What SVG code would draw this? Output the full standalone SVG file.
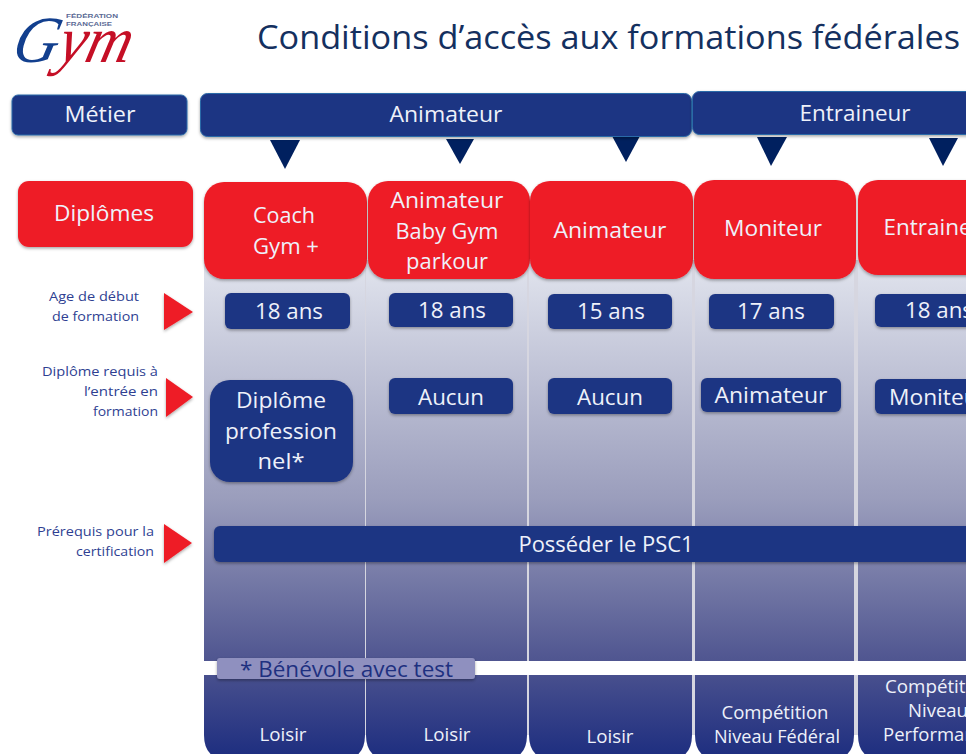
<svg xmlns="http://www.w3.org/2000/svg" width="966" height="754" viewBox="0 0 966 754">
<defs>
<linearGradient id="col" gradientUnits="userSpaceOnUse" x1="0" y1="278" x2="0" y2="754">
<stop offset="0" stop-color="#dcdfea"/><stop offset="0.466" stop-color="#9a9dbc"/><stop offset="0.805" stop-color="#4f5590"/><stop offset="1" stop-color="#1f2f80"/>
</linearGradient>
<filter id="sh" x="-10%" y="-20%" width="120%" height="140%"><feDropShadow dx="0" dy="1.500" stdDeviation="1.500" flood-color="#000" flood-opacity=".35"/></filter>
</defs>
<style>
text{font-family:"Open Sans","Noto Sans","Liberation Sans",sans-serif}
.b{fill:#1d3483;filter:url(#sh)}
.hd{fill:#1d3483;stroke:#2b6aa8;stroke-width:1;filter:url(#sh)}
.r{fill:#ee1c27;filter:url(#sh)}
.w{fill:#eef1fa;text-anchor:middle}
.s{fill:#2f3f92;font-size:13px;text-anchor:end}
.arrow{fill:#ee1c27;filter:url(#sh)}
.down{fill:#00205f}
.p{fill:url(#col)}
.sep{fill:#d6d6e0}
.lg{font-family:"Liberation Sans",sans-serif;font-size:6px;font-weight:700;fill:#5a6a95}
</style>
<rect width="966" height="754" fill="#fff"/>

<g id="columns">
<rect class="sep" x="365" y="260" width="2" height="401"/>
<rect class="sep" x="527" y="260" width="2" height="401"/>
<rect class="sep" x="691" y="260" width="4" height="401"/>
<rect class="sep" x="854" y="260" width="4" height="401"/>
<rect class="sep" x="365" y="675" width="2" height="60"/>
<rect class="sep" x="527" y="675" width="2" height="60"/>
<rect class="sep" x="691" y="675" width="4" height="60"/>
<rect class="sep" x="854" y="675" width="4" height="60"/>
<rect class="p" x="204" y="260" width="161" height="401"/>
<rect class="p" x="366" y="260" width="161" height="401"/>
<rect class="p" x="529" y="260" width="163" height="401"/>
<rect class="p" x="695" y="260" width="159" height="401"/>
<rect class="p" x="858" y="260" width="108" height="401"/>
<path class="p" d="M204 675H365V735Q365 760 340 760H229Q204 760 204 735Z"/>
<path class="p" d="M366 675H527V735Q527 760 502 760H391Q366 760 366 735Z"/>
<path class="p" d="M529 675H692V735Q692 760 667 760H554Q529 760 529 735Z"/>
<path class="p" d="M695 675H854V735Q854 760 829 760H720Q695 760 695 735Z"/>
<path class="p" d="M858 675H966V760H883Q858 760 858 735Z"/>
</g>

<g id="logo">
<text class="lg" x="66" y="18" textLength="52" lengthAdjust="spacingAndGlyphs">FÉDÉRATION</text>
<text class="lg" x="66" y="26" textLength="46" lengthAdjust="spacingAndGlyphs">FRANÇAISE</text>
<text transform="translate(10 62) skewX(-14)" x="0" y="0" font-size="66" font-style="italic" style="font-family:'Liberation Serif',serif" textLength="118" lengthAdjust="spacingAndGlyphs"><tspan fill="#123f8e">G</tspan><tspan fill="#c50f26">ym</tspan></text>
</g>

<g id="title"><text x="257" y="49" font-size="33" fill="#14305f" textLength="703" lengthAdjust="spacingAndGlyphs">Conditions  d’accès aux formations fédérales</text></g>

<g id="connectors">
<polygon class="down" points="270,140 300,140 285,169"/>
<polygon class="down" points="446,139 474,139 460,164"/>
<polygon class="down" points="612,136 640,136 626,162"/>
<polygon class="down" points="757,137 787,137 771,166"/>
<polygon class="down" points="929,138 958,138 943,166"/>
<polygon class="arrow" points="164,293 193,312 164,330"/>
<polygon class="arrow" points="166,378 193,397 166,417"/>
<polygon class="arrow" points="164,524 192,543 164,563"/>
</g>

<g id="metier"><rect class="hd" x="12" y="95" width="175" height="40" rx="6"/><text class="w" x="100" y="122" font-size="21" textLength="71" lengthAdjust="spacingAndGlyphs">Métier</text></g>
<g id="animateur-header"><rect class="hd" x="200.500" y="93.500" width="491" height="43" rx="7"/><text class="w" x="446" y="122" font-size="21" textLength="113" lengthAdjust="spacingAndGlyphs">Animateur</text></g>
<g id="entraineur-header"><rect class="hd" x="692.500" y="91.500" width="290" height="43" rx="7"/><text class="w" x="855" y="121" font-size="21" textLength="111" lengthAdjust="spacingAndGlyphs">Entraineur</text></g>

<g id="diplomes"><rect class="r" x="18" y="181" width="175" height="66" rx="11"/><text class="w" x="104" y="221" font-size="21" textLength="100" lengthAdjust="spacingAndGlyphs">Diplômes</text></g>
<g id="d-coach"><rect class="r" x="204" y="182" width="163" height="97" rx="20"/><text class="w" x="284" y="223" font-size="21" textLength="62" lengthAdjust="spacingAndGlyphs">Coach</text><text class="w" x="286" y="254" font-size="21" textLength="66" lengthAdjust="spacingAndGlyphs">Gym +</text></g>
<g id="d-baby"><rect class="r" x="368" y="181" width="162" height="98" rx="20"/><text class="w" x="447" y="208" font-size="21" textLength="113" lengthAdjust="spacingAndGlyphs">Animateur</text><text class="w" x="447" y="239" font-size="21" textLength="103" lengthAdjust="spacingAndGlyphs">Baby Gym</text><text class="w" x="447" y="269" font-size="21" textLength="82" lengthAdjust="spacingAndGlyphs">parkour</text></g>
<g id="d-animateur"><rect class="r" x="530" y="181" width="163" height="98" rx="20"/><text class="w" x="610" y="238" font-size="21" textLength="113" lengthAdjust="spacingAndGlyphs">Animateur</text></g>
<g id="d-moniteur"><rect class="r" x="694" y="180" width="162" height="99" rx="20"/><text class="w" x="773" y="236" font-size="21" textLength="98" lengthAdjust="spacingAndGlyphs">Moniteur</text></g>
<g id="d-entraineur"><rect class="r" x="858" y="180" width="140" height="95" rx="20"/><text class="w" x="939" y="235" font-size="21" textLength="111" lengthAdjust="spacingAndGlyphs">Entraineur</text></g>

<g id="labels">
<text class="s" x="139" y="301" textLength="90" lengthAdjust="spacingAndGlyphs">Age de début</text>
<text class="s" x="139" y="321" textLength="87" lengthAdjust="spacingAndGlyphs">de formation</text>
<text class="s" x="158" y="376" textLength="116" lengthAdjust="spacingAndGlyphs">Diplôme  requis à</text>
<text class="s" x="158" y="396" textLength="74" lengthAdjust="spacingAndGlyphs">l’entrée en</text>
<text class="s" x="158" y="416" textLength="65" lengthAdjust="spacingAndGlyphs">formation</text>
<text class="s" x="154" y="536" textLength="117" lengthAdjust="spacingAndGlyphs">Prérequis  pour la</text>
<text class="s" x="154" y="556" textLength="78" lengthAdjust="spacingAndGlyphs">certification</text>
</g>

<g id="age-1"><rect class="b" x="225" y="293" width="125" height="36" rx="6"/><text class="w" x="289" y="319" font-size="21" textLength="68" lengthAdjust="spacingAndGlyphs">18  ans</text></g>
<g id="age-2"><rect class="b" x="389" y="293" width="124" height="34" rx="6"/><text class="w" x="452" y="318" font-size="21" textLength="68" lengthAdjust="spacingAndGlyphs">18  ans</text></g>
<g id="age-3"><rect class="b" x="548" y="294" width="124" height="35" rx="6"/><text class="w" x="611" y="319" font-size="21" textLength="68" lengthAdjust="spacingAndGlyphs">15  ans</text></g>
<g id="age-4"><rect class="b" x="709" y="294" width="125" height="35" rx="6"/><text class="w" x="771" y="319" font-size="21" textLength="68" lengthAdjust="spacingAndGlyphs">17  ans</text></g>
<g id="age-5"><rect class="b" x="875" y="294" width="110" height="33" rx="6"/><text class="w" x="939" y="318" font-size="21" textLength="68" lengthAdjust="spacingAndGlyphs">18  ans</text></g>

<g id="req-1"><rect class="b" x="210" y="380" width="143" height="102" rx="20"/><text class="w" x="281" y="408" font-size="21" textLength="90" lengthAdjust="spacingAndGlyphs">Diplôme</text><text class="w" x="281" y="439" font-size="21" textLength="112" lengthAdjust="spacingAndGlyphs">profession</text><text class="w" x="281" y="469" font-size="21" textLength="47" lengthAdjust="spacingAndGlyphs">nel*</text></g>
<g id="req-2"><rect class="b" x="389" y="378" width="124" height="36" rx="6"/><text class="w" x="451" y="405" font-size="21" textLength="66" lengthAdjust="spacingAndGlyphs">Aucun</text></g>
<g id="req-3"><rect class="b" x="548" y="378" width="124" height="36" rx="6"/><text class="w" x="610" y="405" font-size="21" textLength="66" lengthAdjust="spacingAndGlyphs">Aucun</text></g>
<g id="req-4"><rect class="b" x="701" y="378" width="140" height="34" rx="6"/><text class="w" x="771" y="403" font-size="21" textLength="113" lengthAdjust="spacingAndGlyphs">Animateur</text></g>
<g id="req-5"><rect class="b" x="875" y="379" width="110" height="35" rx="6"/><text class="w" x="938" y="405" font-size="21" textLength="98" lengthAdjust="spacingAndGlyphs">Moniteur</text></g>

<g id="psc1"><rect class="b" x="214" y="526" width="770" height="36" rx="6"/><text class="w" x="606" y="552" font-size="21" textLength="175" lengthAdjust="spacingAndGlyphs">Posséder le PSC1</text></g>

<g id="note"><rect x="217" y="658" width="258" height="21" rx="3" fill="#8f90bf" filter="url(#sh)"/><text x="240" y="677" font-size="21" fill="#1e3080" textLength="213" lengthAdjust="spacingAndGlyphs">* Bénévole avec test</text></g>

<g id="bottom">
<text class="w" x="283" y="741" font-size="18" textLength="47" lengthAdjust="spacingAndGlyphs">Loisir</text>
<text class="w" x="447" y="741" font-size="18" textLength="47" lengthAdjust="spacingAndGlyphs">Loisir</text>
<text class="w" x="610" y="743" font-size="18" textLength="47" lengthAdjust="spacingAndGlyphs">Loisir</text>
<text class="w" x="775" y="719" font-size="18" textLength="107" lengthAdjust="spacingAndGlyphs">Compétition</text>
<text class="w" x="777" y="743" font-size="18" textLength="126" lengthAdjust="spacingAndGlyphs">Niveau Fédéral</text>
<text class="w" x="939" y="693" font-size="18" textLength="108" lengthAdjust="spacingAndGlyphs">Compétition</text>
<text class="w" x="938" y="717" font-size="18" textLength="60" lengthAdjust="spacingAndGlyphs">Niveau</text>
<text class="w" x="939" y="741" font-size="18" textLength="112" lengthAdjust="spacingAndGlyphs">Performance</text>
</g>
</svg>
